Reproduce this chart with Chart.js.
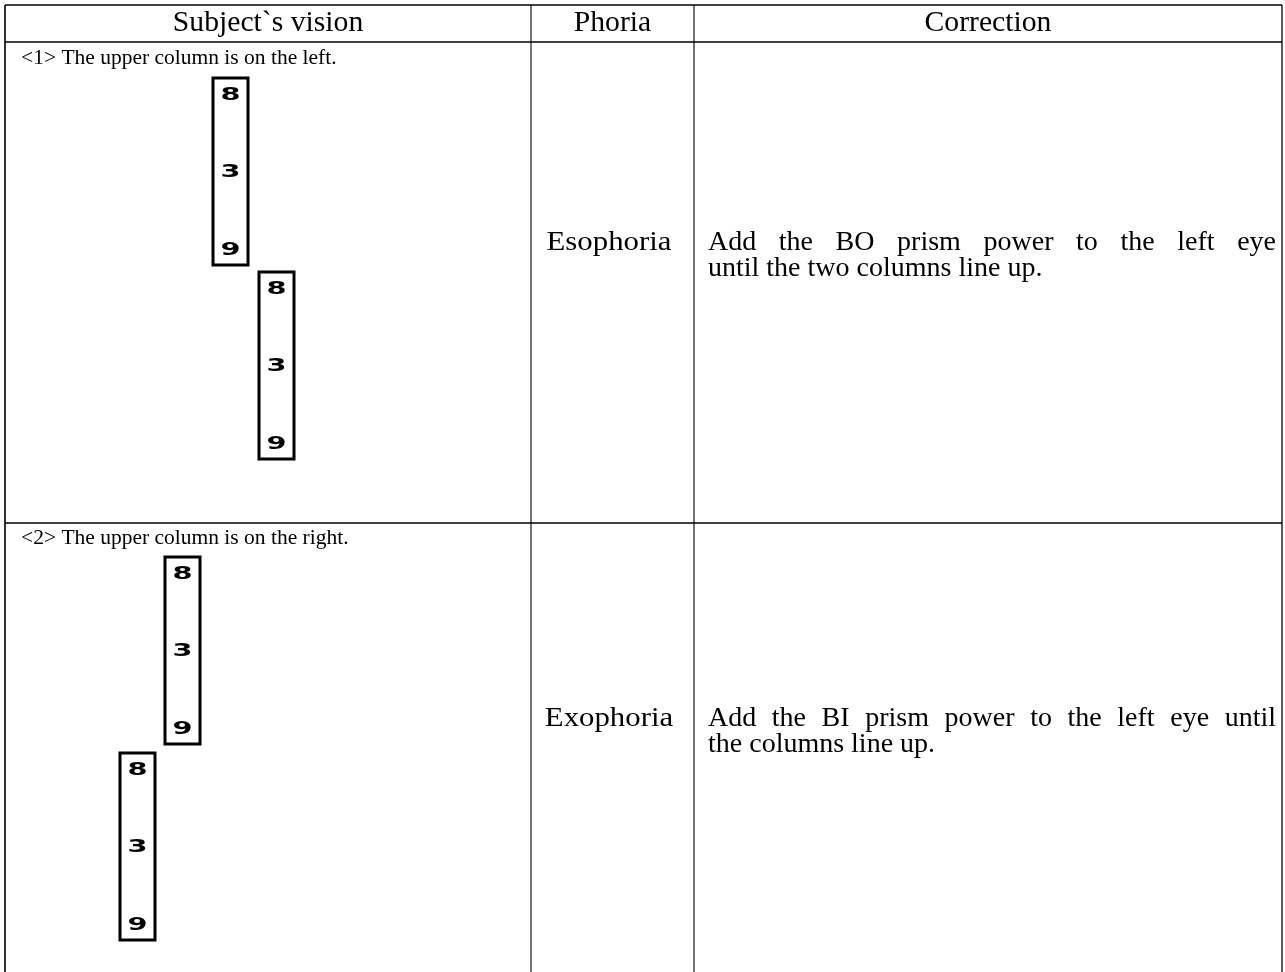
<!DOCTYPE html>
<html>
<head>
<meta charset="utf-8">
<script src="https://cdn.jsdelivr.net/npm/chart.js@4.4.1/dist/chart.umd.min.js"></script>
<style>
  html, body { margin: 0; padding: 0; background: #ffffff; }
  #wrap { width: 1285px; height: 972px; }
</style>
</head>
<body>
<div id="wrap"><canvas id="c" width="1285" height="972"></canvas></div>
<script>
// ---- content ----
const headers = ["Subject`s vision", "Phoria", "Correction"];
const scenarios = ["<1> The upper column is on the left.", "<2> The upper column is on the right."];
const phorias = ["Esophoria", "Exophoria"];
const corrections = [
  ["Add the BO prism power to the left eye", "until the two columns line up."],
  ["Add the BI prism power to the left eye until", "the columns line up."]
];
const columnDigits = ["8", "3", "9"];

// ---- layout (chart units == pixels) ----
const SERIF = '"Liberation Serif", "Times New Roman", serif';
const L = {
  left: 5, right: 1282, top: 5, headerBottom: 42, rowBottom: [523, 990],
  colSep: [531, 694],
  headerY: 23,
  scenarioX: 21, scenarioY: [58, 538],
  textY: [[243, 269], [719, 745]],
  phoriaX: 609,
  corrLeft: 708, corrRight: 1276,
  boxes: [
    [{x: 213, top: 78}, {x: 259, top: 272}],
    [{x: 165, top: 557}, {x: 120, top: 753}]
  ],
  boxW: 35, boxH: 187,
  digitOffsets: [17, 94, 172]
};

const tablePlugin = {
  id: 'tablePlugin',
  afterDraw(chart) {
    const ctx = chart.ctx;
    const xs = chart.scales.x, ys = chart.scales.y;
    const X = v => xs.getPixelForValue(v);
    const Y = v => ys.getPixelForValue(v);
    ctx.save();
    ctx.fillStyle = '#ffffff';
    ctx.fillRect(0, 0, chart.width, chart.height);

    ctx.strokeStyle = '#000000';
    const line = (x1, y1, x2, y2, w) => {
      ctx.lineWidth = w || 1.3;
      ctx.beginPath(); ctx.moveTo(X(x1), Y(y1)); ctx.lineTo(X(x2), Y(y2)); ctx.stroke();
    };
    line(L.left, L.top, L.right, L.top);
    line(L.left, L.headerBottom, L.right, L.headerBottom, 1.6);
    line(L.left, L.rowBottom[0], L.right, L.rowBottom[0], 1.3);
    line(L.left, L.top, L.left, L.rowBottom[1], 1.6);
    line(L.right, L.top, L.right, L.rowBottom[1], 1.3);
    L.colSep.forEach(cx => line(cx, L.top, cx, L.rowBottom[1], 1.1));

    ctx.fillStyle = '#000000';
    ctx.textBaseline = 'middle';

    const colBounds = [[L.left, L.colSep[0]], [L.colSep[0], L.colSep[1]], [L.colSep[1], L.right]];
    ctx.font = '28px ' + SERIF;
    ctx.textAlign = 'center';
    headers.forEach((h, i) => {
      const cx = (colBounds[i][0] + colBounds[i][1]) / 2;
      ctx.save();
      ctx.translate(X(cx), Y(L.headerY));
      ctx.scale(1.06, 1.05);
      ctx.fillText(h, 0, 0);
      ctx.restore();
    });

    ctx.textAlign = 'left';
    ctx.font = '21.5px ' + SERIF;
    scenarios.forEach((s, i) => ctx.fillText(s, X(L.scenarioX), Y(L.scenarioY[i])));

    ctx.font = '28px ' + SERIF;
    ctx.textAlign = 'center';
    phorias.forEach((p, i) => {
      ctx.save();
      ctx.translate(X(L.phoriaX), Y(L.textY[i][0]));
      ctx.scale(1.1, 1);
      ctx.fillText(p, 0, 0);
      ctx.restore();
    });

    ctx.textAlign = 'left';
    corrections.forEach((lines, i) => {
      lines.forEach((t, j) => {
        const y = Y(L.textY[i][j]);
        if (j === 0) {
          const words = t.split(' ');
          const wordsW = words.reduce((a, w) => a + ctx.measureText(w).width, 0);
          const gap = (X(L.corrRight) - X(L.corrLeft) - wordsW) / (words.length - 1);
          let x = X(L.corrLeft);
          words.forEach(w => { ctx.fillText(w, x, y); x += ctx.measureText(w).width + gap; });
        } else {
          ctx.fillText(t, X(L.corrLeft), y);
        }
      });
    });

    L.boxes.forEach(row => row.forEach(b => {
      ctx.lineWidth = 3;
      ctx.strokeRect(X(b.x), Y(b.top), X(b.x + L.boxW) - X(b.x), Y(b.top + L.boxH) - Y(b.top));
      const cx = X(b.x + L.boxW / 2);
      columnDigits.forEach((d, k) => {
        ctx.save();
        ctx.translate(cx, Y(b.top + L.digitOffsets[k]));
        ctx.scale(1.6, 0.95);
        ctx.font = 'bold 18px "DejaVu Sans"';
        ctx.textAlign = 'center';
        ctx.textBaseline = 'middle';
        ctx.fillText(d, 0, 1);
        ctx.restore();
      });
    }));
    ctx.restore();
  }
};

new Chart(document.getElementById('c'), {
  type: 'scatter',
  data: { datasets: [{ data: [], pointRadius: 0 }] },
  options: {
    responsive: false,
    animation: false,
    layout: { padding: 0 },
    plugins: { legend: { display: false }, tooltip: { enabled: false } },
    scales: {
      x: { type: 'linear', min: 0, max: 1285, display: false },
      y: { type: 'linear', min: 0, max: 972, reverse: true, display: false }
    }
  },
  plugins: [tablePlugin]
});
</script>
</body>
</html>
